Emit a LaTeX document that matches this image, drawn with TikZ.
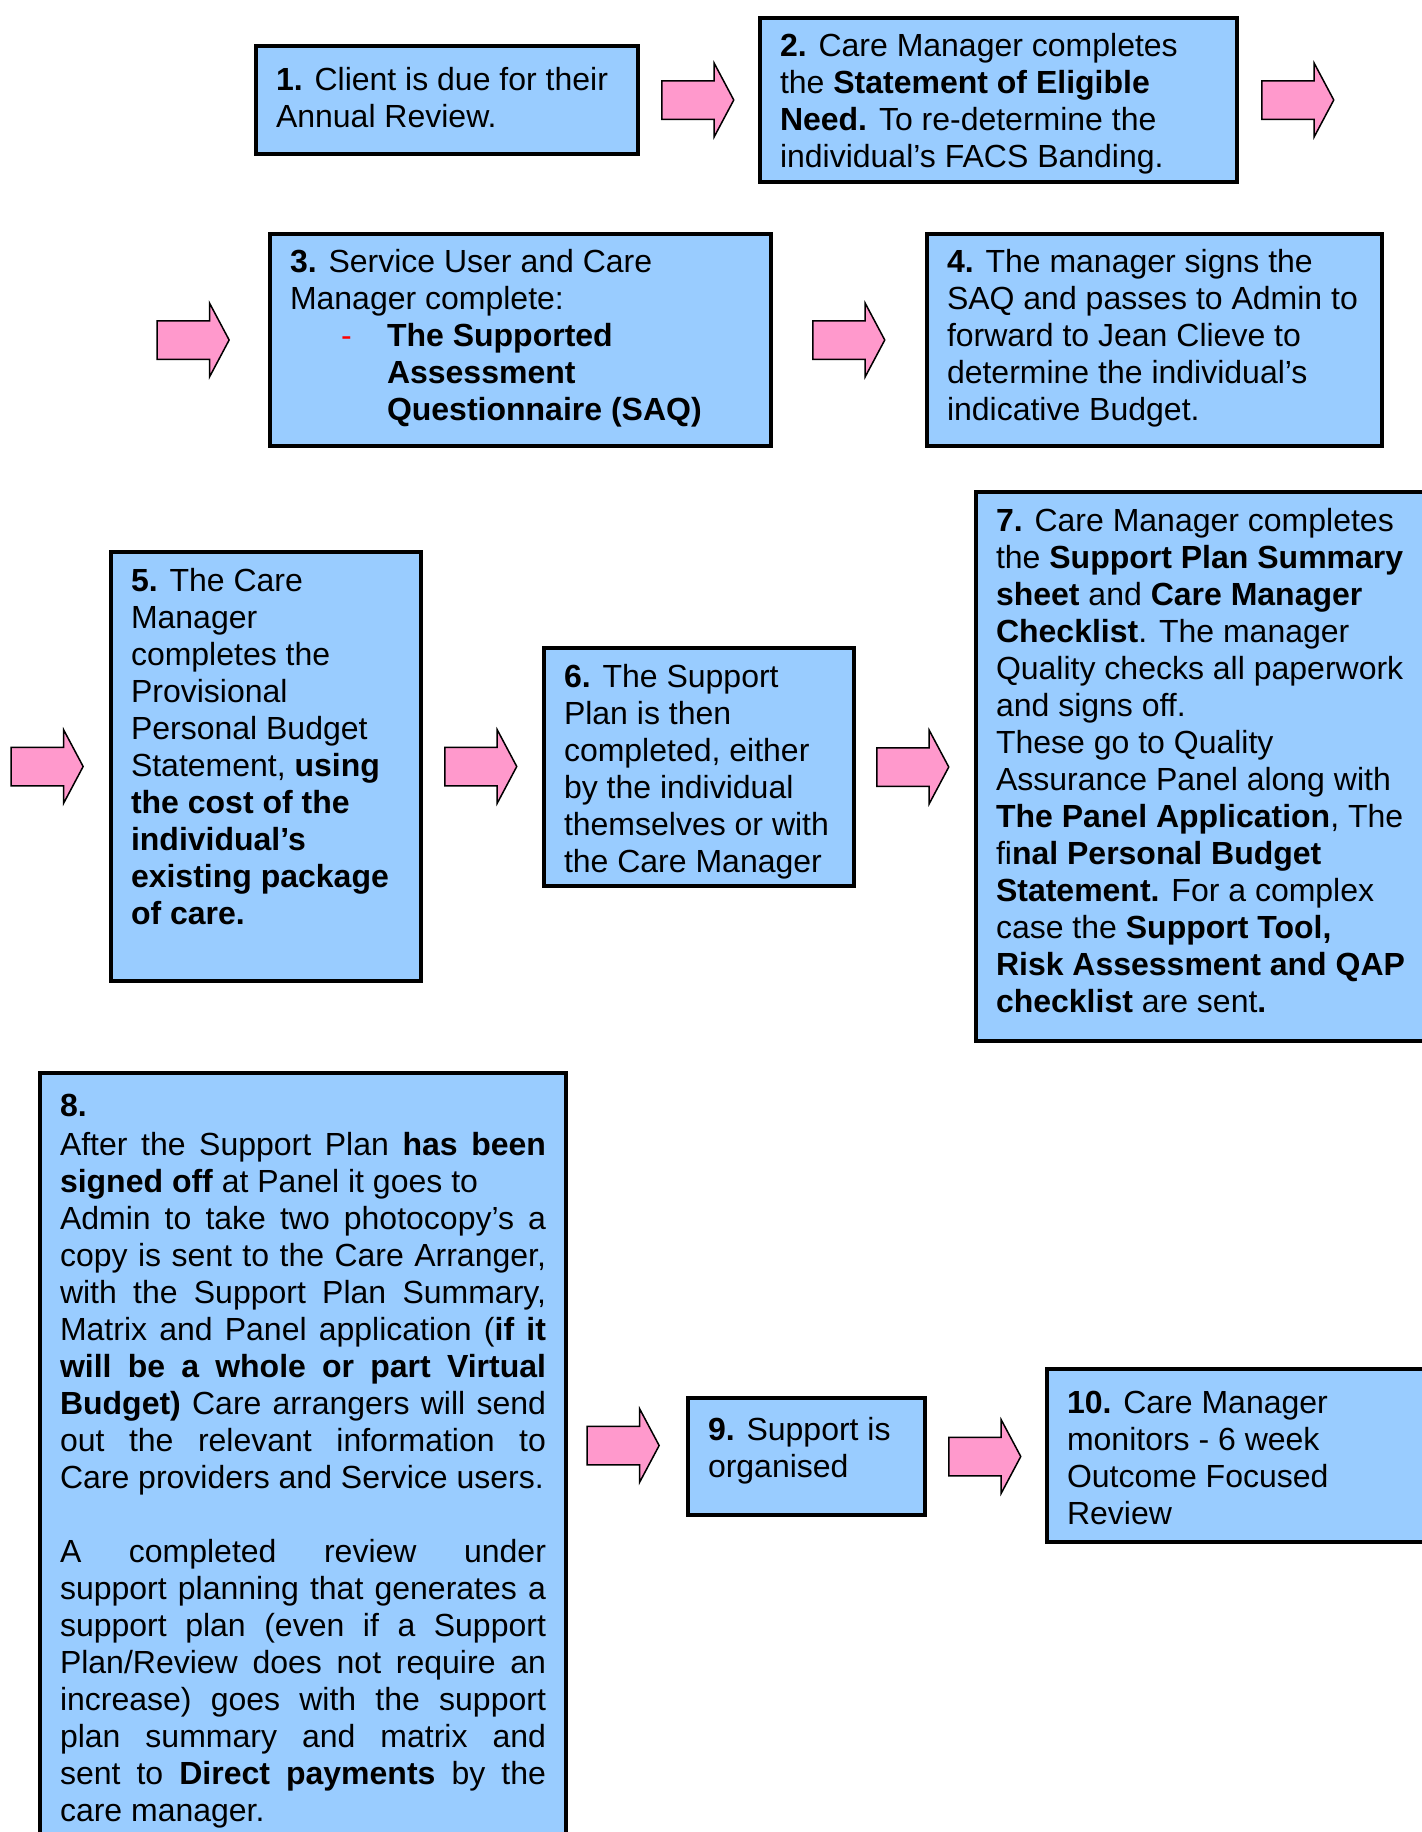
\documentclass[tikz,border=0pt]{standalone}
\usepackage{fontspec}
\setmainfont{Liberation Sans}
\usetikzlibrary{positioning, shapes.arrows}

\definecolor{boxblue}{HTML}{99CCFF}
\definecolor{arrowpink}{HTML}{FF99CC}

\newcommand{\steptext}[4][0pt]{\parbox[t][#3][t]{#2}{\vspace*{#1}\raggedright\strut#4}}

\begin{document}
\begin{tikzpicture}[x=1pt, y=-1pt,
    stepbox/.style={draw, line width=4pt, fill=boxblue, anchor=north west,
        inner xsep=20pt, inner ysep=16pt, font=\fontsize{32}{37}\selectfont},
    blockarrow/.style={single arrow, draw, line width=1.5pt, fill=arrowpink,
        minimum height=72pt, minimum width=72pt, inner xsep=0pt, inner ysep=18.5pt,
        single arrow head extend=17.5pt, single arrow tip angle=124,
        single arrow head indent=0pt}
    ]

\useasboundingbox (0,0) rectangle (1422,1832);
\fill[white] (0,0) rectangle (1422,1832);
\clip (0,0) rectangle (1422,1832);

\node[stepbox] (s1) at (254,44) {\steptext[3pt]{342pt}{76pt}{\textbf{1.} Client is due for their\\
    Annual Review.}};
\node[stepbox] (s2) at (758,16) {\steptext[-3pt]{437pt}{132pt}{\textbf{2.} Care Manager completes\\
    the \textbf{Statement of Eligible}\\
    \textbf{Need.} To re-determine the\\
    individual's FACS Banding.}};
\node[stepbox] (s3) at (268,232) {\steptext[-3pt]{461pt}{180pt}{\textbf{3.} Service User and Care\\
    Manager complete:\\
    \hspace*{51pt}\makebox[46pt][l]{\textcolor{red}{-}}\textbf{The Supported}\\
    \hspace*{97pt}\textbf{Assessment}\\
    \hspace*{97pt}\textbf{Questionnaire (SAQ)}}};
\node[stepbox] (s4) at (925,232) {\steptext[-3pt]{415pt}{180pt}{\textbf{4.} The manager signs the\\
    SAQ and passes to Admin to\\
    forward to Jean Clieve to\\
    determine the individual's\\
    indicative Budget.}};
\node[stepbox] (s5) at (109,550) {\steptext[-2pt]{270pt}{397pt}{\textbf{5.} The Care\\
    Manager\\
    completes the\\
    Provisional\\
    Personal Budget\\
    Statement, \textbf{using}\\
    \textbf{the cost of the}\\
    \textbf{individual's}\\
    \textbf{existing package}\\
    \textbf{of care.}}};
\node[stepbox] (s6) at (542,646) {\steptext[-2pt]{270pt}{206pt}{\textbf{6.} The Support\\
    Plan is then\\
    completed, either\\
    by the individual\\
    themselves or with\\
    the Care Manager}};
\node[stepbox] (s7) at (974,490) {\steptext[-2pt]{424pt}{517pt}{\textbf{7.} Care Manager completes\\
    the \textbf{Support Plan Summary}\\
    \textbf{sheet} and \textbf{Care Manager}\\
    \textbf{Checklist}. The manager\\
    Quality checks all paperwork\\
    and signs off.\\
    These go to Quality\\
    Assurance Panel along with\\
    \textbf{The Panel Application}, The\\
    fi\textbf{nal Personal Budget}\\
    \textbf{Statement.} For a complex\\
    case the \textbf{Support Tool,}\\
    \textbf{Risk Assessment and QAP}\\
    \textbf{checklist} are sent\textbf{.}}};
\node[stepbox] (s8) at (38,1071) {\parbox[t][755pt][t]{486pt}{\vspace*{2pt}\tolerance=10000\strut\textbf{8.}\\[2pt]
    After the Support Plan \textbf{has been}\linebreak
    \textbf{signed off} at Panel it goes to\\
    Admin to take two photocopy's a\linebreak
    copy is sent to the Care Arranger,\linebreak
    with the Support Plan Summary,\linebreak
    Matrix and Panel application (\textbf{if it}\linebreak
    \textbf{will be a whole or part Virtual}\linebreak
    \textbf{Budget)} Care arrangers will send\linebreak
    out the relevant information to\linebreak
    Care providers and Service users.\\[37pt]
    A completed review under\linebreak
    support planning that generates a\linebreak
    support plan (even if a Support\linebreak
    Plan/Review does not require an\linebreak
    increase) goes with the support\linebreak
    plan summary and matrix and\linebreak
    sent to \textbf{Direct payments} by the\linebreak
    care manager.}};
\node[stepbox] (s9) at (686,1396) {\steptext[1pt]{197pt}{85pt}{\textbf{9.} Support is\\
    organised}};
\node[stepbox] (s10) at (1045,1367) {\steptext[3pt]{353pt}{141pt}{\textbf{10.} Care Manager\\
    monitors - 6 week\\
    Outcome Focused\\
    Review}};

\node[blockarrow, right=21pt of s1] (a1) {};
\node[blockarrow, right=22pt of s2] (a2) {};
\node[blockarrow, left=38pt of s3] (a3) {};
\node[blockarrow, right=39pt of s3] (a4) {};
\node[blockarrow, left=25pt of s5] (a5) {};
\node[blockarrow, right=21pt of s5] (a6) {};
\node[blockarrow, right=20pt of s6] (a7) {};
\node[blockarrow, left=26pt of s9, yshift=11pt] (a8) {};
\node[blockarrow, right=21pt of s9] (a9) {};

\end{tikzpicture}
\end{document}
